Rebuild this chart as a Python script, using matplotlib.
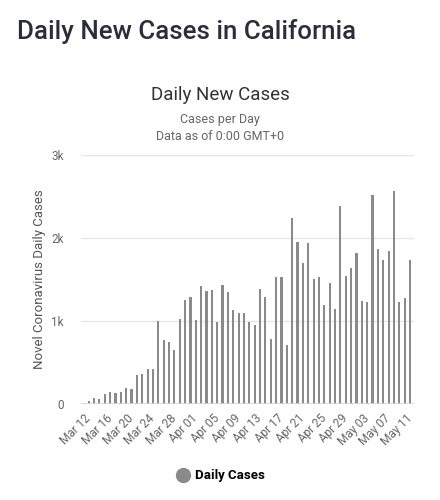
"""
Daily New Cases in California - bar chart
"""
import matplotlib
matplotlib.use('Agg')
import matplotlib.pyplot as plt
import pandas as pd

plt.rcParams['font.family'] = ['Roboto', 'DejaVu Sans']

# daily cases, Mar 12 .. May 11
dates = pd.date_range('2020-03-12', '2020-05-11', freq='D')
cases = [
    32, 73, 60, 121, 149, 137, 149, 190, 177, 355,
    367, 419, 419, 1004, 770, 746, 645, 1028, 1250, 1290,
    1016, 1419, 1367, 1379, 984, 1431, 1355, 1137, 1097, 1097,
    992, 956, 1391, 1290, 782, 1536, 1536, 706, 2246, 1948,
    1694, 1935, 1508, 1536, 1190, 1456, 1149, 2391, 1548, 1641,
    1823, 1238, 1226, 2516, 1871, 1730, 1843, 2569, 1226, 1274,
    1730,
]
y_ticks = [0, 1000, 2000, 3000]
y_labels = ['0', '1k', '2k', '3k']

fig = plt.figure(figsize=(4.4, 5.0), dpi=100)
ax = fig.add_axes([0.184, 0.192, 0.757, 0.498])

x = range(len(cases))
ax.bar(x, cases, width=0.4, color='#8a8a8a', zorder=3)

ax.set_ylim(0, 3000)
ax.set_xlim(-1.44, len(cases) - 0.25)
ax.set_yticks(y_ticks)
ax.set_yticklabels(y_labels)
ax.grid(axis='y', color='#e6e6e6', linewidth=1, zorder=0)
ax.axhline(0, color='#ccd6eb', linewidth=1.2, zorder=4)

tick_pos = list(range(0, len(cases), 4))
ax.set_xticks(tick_pos)
ax.set_xticklabels([dates[i].strftime('%b %d') for i in tick_pos],
                   rotation=45, ha='right', va='center', rotation_mode='anchor')
ax.tick_params(axis='both', length=0, labelsize=8.5, labelcolor='#666666')
ax.tick_params(axis='x', pad=9)
ax.tick_params(axis='y', pad=12.5)
for s in ax.spines.values():
    s.set_visible(False)

ax.set_ylabel('Novel Coronavirus Daily Cases', fontsize=9.5, color='#555555', labelpad=4)

# titles
fig.text(0.038, 0.938, 'Daily New Cases in California', fontsize=18.6, fontweight='medium',
         color='#2b2d3a', va='center', ha='left')
fig.text(0.5, 0.81, 'Daily New Cases', fontsize=13.5, color='#333333', ha='center', va='center')
fig.text(0.5, 0.76, 'Cases per Day', fontsize=9, color='#666666', ha='center', va='center')
fig.text(0.5, 0.728, 'Data as of 0:00 GMT+0', fontsize=9, color='#666666', ha='center', va='center')

# legend
fig.legend(handles=[plt.Line2D([], [], marker='o', color='none', markerfacecolor='#8a8a8a',
                               markeredgecolor='#8a8a8a', markersize=10, label='Daily Cases')],
           loc='center', bbox_to_anchor=(0.5, 0.048), frameon=False,
           prop={'weight': 'bold', 'size': 9.5}, handletextpad=0.3, handlelength=1.2)

plt.savefig('out.png', dpi=100)
plt.close()
